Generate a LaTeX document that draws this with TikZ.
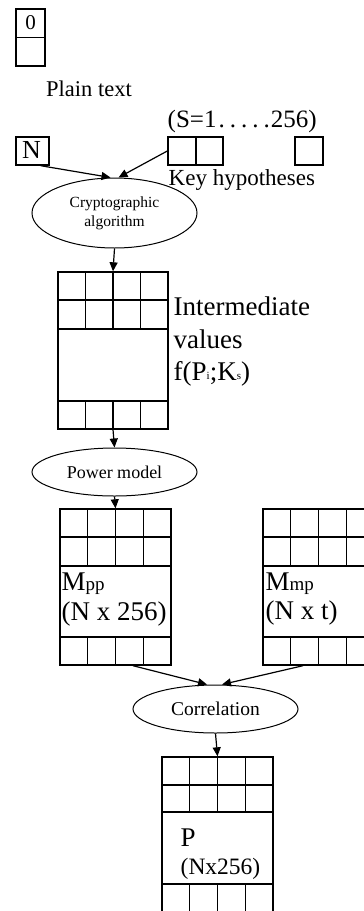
\documentclass[tikz,border=0pt]{standalone}
\usepackage{fontspec}
\setmainfont{Liberation Serif}
\usetikzlibrary{shapes.geometric,arrows.meta}
\newcommand\cellgrid[8]{%
  \node[draw, rectangle, inner sep=0pt, minimum width={#3-#2}, minimum height={#8-#4}] (#1) at ({(#2+#3)/2},{(#4+#8)/2}) {};
  \draw (#2,#5) -- (#3,#5) (#2,#6) -- (#3,#6) (#2,#7) -- (#3,#7);
  \foreach \i in {1,2,3} {
    \draw ({#2+\i*(#3-#2)/4},#4) -- ({#2+\i*(#3-#2)/4},#6);
    \draw ({#2+\i*(#3-#2)/4},#7) -- ({#2+\i*(#3-#2)/4},#8);
  }%
}
\newcommand\smallsub[1]{\raisebox{1pt}{\fontsize{11}{11}\selectfont #1}}
\newcommand\midsub[1]{{\fontsize{19}{20}\selectfont #1}}
\newcommand\dotgap{\kern5pt}
\begin{document}
\begin{tikzpicture}[x=1pt,y=-1pt,line width=1.4pt,
  oval/.style={draw, ellipse, line width=1pt, inner sep=0pt, align=center},
  arr/.style={-{Triangle[length=9pt,width=8pt]}, line width=1.2pt},
  lbl/.style={inner sep=0pt, anchor=base west},
  sbox/.style={draw, rectangle, inner sep=0pt, minimum width=28pt, minimum height=28pt}]
\clip (0,0) rectangle (364,911);
\fill[white] (0,0) rectangle (364,911);

% plain text box
\node[draw, rectangle, inner sep=0pt, minimum width=29pt, minimum height=57pt] (ptbox) at (30.5,37.5) {};
\draw (ptbox.west) -- (ptbox.east);
\node[inner sep=0pt, font=\fontsize{21}{24}\selectfont] (zero) at (30.5,23) {0};
\node[inner sep=0pt, anchor=base, font=\fontsize{22.5}{26}\selectfont] (plain) at (89,96) {Plain text};

% N and key hypotheses
\node[draw, rectangle, inner sep=0pt, minimum width=33pt, minimum height=28pt] (n) at (32.5,151) {};
\node[inner sep=0pt, anchor=base, font=\fontsize{26}{28}\selectfont] (nlbl) at (31.5,158) {N};
\node[lbl, font=\fontsize{25}{28}\selectfont] (range) at (167,127) {(S=1\kern2pt.\dotgap.\dotgap.\dotgap.\dotgap.\kern1pt256)};
\node[sbox] (k1) at (182,151) {};
\node[sbox, minimum width=27pt] (k2) at (209.5,151) {};
\node[sbox] (k3) at (309,151) {};
\node[lbl, font=\fontsize{23}{26}\selectfont] (keyh) at (168,185) {Key hypotheses};

% cryptographic algorithm
\node[oval, minimum width=165pt, minimum height=70pt, font=\fontsize{15.5}{19}\selectfont] (crypto) at (114.5,213) {Cryptographic\\algorithm};
\draw[arr] ([xshift=-9pt]n.south east) -- ([xshift=-4pt]crypto.north);
\draw[arr] (k1.west) -- ([xshift=4pt]crypto.north);

% intermediate values
\cellgrid{g1}{58}{168}{272}{300}{329}{401}{429}
\draw[arr] (crypto.south) -- (g1.north);
\node[lbl, font=\fontsize{27}{33}\selectfont] (inter1) at (173,315) {Intermediate};
\node[lbl, font=\fontsize{27}{33}\selectfont] (inter2) at (173,348) {values};
\node[lbl, font=\fontsize{27}{33}\selectfont] (inter3) at (173,380) {f(P\smallsub{i};K\smallsub{s})};

% power model
\node[oval, minimum width=165pt, minimum height=48pt, font=\fontsize{18}{20}\selectfont] (power) at (114.5,472) {Power model};
\draw[arr] (g1.south) -- (power.north);

% Mpp and Mmp
\cellgrid{g2}{60}{171}{509}{537}{566}{637}{665}
\draw[arr] (power.south) -- (g2.north);
\node[lbl, font=\fontsize{27}{30}\selectfont] (mpp) at (61,590) {M\midsub{pp}};
\node[lbl, font=\fontsize{27}{30}\selectfont] (mppsize) at (61,620) {(N x 256)};
\cellgrid{g3}{263}{374}{509}{537}{566}{637}{665}
\node[lbl, font=\fontsize{27}{30}\selectfont] (mmp) at (265,590) {M\midsub{mp}};
\node[lbl, font=\fontsize{27}{30}\selectfont] (mmpsize) at (265,619) {(N x t)};

% correlation
\node[oval, minimum width=165pt, minimum height=48pt, font=\fontsize{19.5}{22}\selectfont] (corr) at (215.5,709) {Correlation};
\draw[arr] ([xshift=17.5pt]g2.south) -- ([xshift=-8.5pt]corr.north);
\draw[arr] ([xshift=-15.5pt]g3.south) -- ([xshift=6.5pt]corr.north);

% P
\cellgrid{g4}{162}{273}{757}{785}{812}{884}{940}
\draw[arr] (corr.south) -- (g4.north);
\node[lbl, font=\fontsize{27}{30}\selectfont] (pname) at (180,846) {P};
\node[lbl, font=\fontsize{23.5}{26}\selectfont] (psize) at (180,874) {(Nx256)};
\end{tikzpicture}
\end{document}
